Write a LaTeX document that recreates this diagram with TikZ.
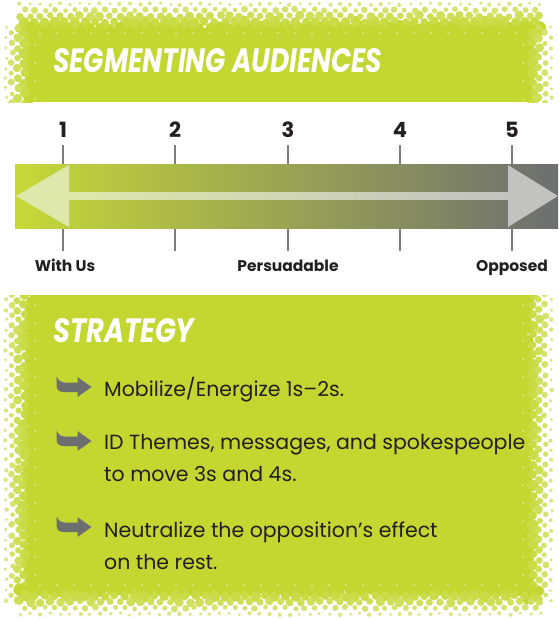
\documentclass[tikz,border=0pt]{standalone}
\usepackage{fontspec}
\setmainfont{Poppins}
\usepackage{graphicx}
\definecolor{G}{RGB}{195,215,48}
\definecolor{Gbar}{RGB}{198,217,55}
\definecolor{Gray}{RGB}{109,110,112}
\definecolor{txt}{RGB}{35,31,32}
\definecolor{tickc}{RGB}{125,125,125}
\definecolor{LG}{RGB}{222,232,170}
\definecolor{LGray}{RGB}{194,194,192}
\newcommand\htone[4]{%
  \foreach \k in {0,...,4}{%
    \pgfmathsetmacro\yy{#3+#4*\k*6}%
    \pgfmathsetmacro\rr{6.2-1.05*\k}%
    \pgfmathsetmacro\xs{#1+mod(\k,2)*5}%
    \pgfmathsetmacro\xn{\xs+10}%
    \pgfmathtruncatemacro\shd{100-10*\k}%
    \foreach \x in {\xs,\xn,...,#2}{%
      \fill[G!\shd!white] ({\x+2*rnd-1},{\yy+2*rnd-1}) circle ({\rr*(0.75+0.4*rnd)});
    }%
  }%
}
\newcommand\vtone[4]{%
  \foreach \k in {0,...,4}{%
    \pgfmathsetmacro\xx{#3+#4*\k*6}%
    \pgfmathsetmacro\rr{6.2-1.05*\k}%
    \pgfmathsetmacro\ys{#1+mod(\k,2)*5}%
    \pgfmathsetmacro\yn{\ys+10}%
    \pgfmathtruncatemacro\shd{100-10*\k}%
    \foreach \y in {\ys,\yn,...,#2}{%
      \fill[G!\shd!white] ({\xx+2*rnd-1},{\y+2*rnd-1}) circle ({\rr*(0.75+0.4*rnd)});
    }%
  }%
}
\begin{document}
\begin{tikzpicture}[x=1pt,y=-1pt,
  tk/.style={draw=tickc, line width=1.1pt},
  num/.style={font=\fontsize{21}{21}\selectfont\bfseries, text=txt, inner sep=0},
  lab/.style={font=\fontsize{15.5}{15.5}\selectfont\bfseries, text=txt, inner sep=0, anchor=base},
  body/.style={font=\fontsize{20.5}{32}\selectfont, text=txt, inner sep=0, anchor=base west, align=left},
  ttl/.style={text=white, inner sep=0, anchor=base west, font=\bfseries\itshape},
  dotl/.style={fill=G!45!white}
]
\pgfmathsetseed{11}
\useasboundingbox (0,0) rectangle (558,619);
\fill[white] (0,0) rectangle (558,619);
% header panel
\begin{scope}
\clip (0,0) rectangle (558,102);
\fill[G] (30,28) rectangle (527,102);
\htone{20}{540}{28}{-1}
\vtone{28}{110}{30}{-1}
\vtone{28}{110}{527}{1}
\foreach \x in {40,57,...,520}{\fill[dotl] (\x,33) circle (1);}
\foreach \y in {45,63,...,100}{\fill[dotl] (35,\y) circle (1); \fill[dotl] (523,\y) circle (1);}
\end{scope}
\node[ttl] (title) at (53,72) {\resizebox{329pt}{24pt}{SEGMENTING AUDIENCES}};
% scale
\node[num] (n1) at (63,130) {1};
\node[num] (n2) at (175,130) {2};
\node[num] (n3) at (288,130) {3};
\node[num] (n4) at (400,130) {4};
\node[num] (n5) at (512,130) {5};
\foreach \n in {n1,n2,n3,n4,n5}{\draw[tk] (\n) ++(0,15) -- ++(0,106);}
\shade[left color=Gbar, right color=Gray] (15,164) rectangle (558,228);
\fill[LG] (16,196) -- (69,165) -- (69,227) -- cycle;
\shade[left color=LG, right color=LGray] (68.5,192.5) rectangle (508.5,199.5);
\fill[LGray] (558,196) -- (508,165) -- (508,227) -- cycle;
\node[lab] (l1) at (65,271) {With Us};
\node[lab] (l3) at (288,271) {Persuadable};
\node[lab] (l5) at (512,271) {Opposed};
% strategy panel
\begin{scope}
\clip (0,295) rectangle (558,619);
\fill[G] (30,295) rectangle (527,590);
\vtone{290}{600}{30}{-1}
\vtone{290}{600}{527}{1}
\htone{20}{540}{590}{1}
\foreach \x in {40,57,...,520}{\fill[dotl] (\x,585) circle (1);}
\foreach \y in {305,323,...,580}{\fill[dotl] (35,\y) circle (1); \fill[dotl] (523,\y) circle (1);}
\end{scope}
\node[ttl] (strat) at (53,342) {\resizebox{141pt}{24pt}{STRATEGY}};
\foreach \yc in {387,441,527}{
\begin{scope}[shift={(74,\yc)}]
\fill[Gray] (-17.5,-10.5) .. controls (-15,-6) and (-13,-4.5) .. (-9,-4.5) -- (3.5,-4.5) -- (3.5,-10) -- (17.5,0) -- (3.5,10) -- (3.5,5) -- (-10,5) .. controls (-15,5) and (-17.5,3) .. (-17.5,-2) -- cycle;
\end{scope}}
\node[body] (b1) at (104,396) {Mobilize/Energize 1s–2s.};
\node[body] (b2) at (104,481) {ID Themes, messages, and spokespeople\\to move 3s and 4s.};
\node[body] (b3) at (104,569) {Neutralize the opposition’s effect\\on the rest.};
\end{tikzpicture}
\end{document}
